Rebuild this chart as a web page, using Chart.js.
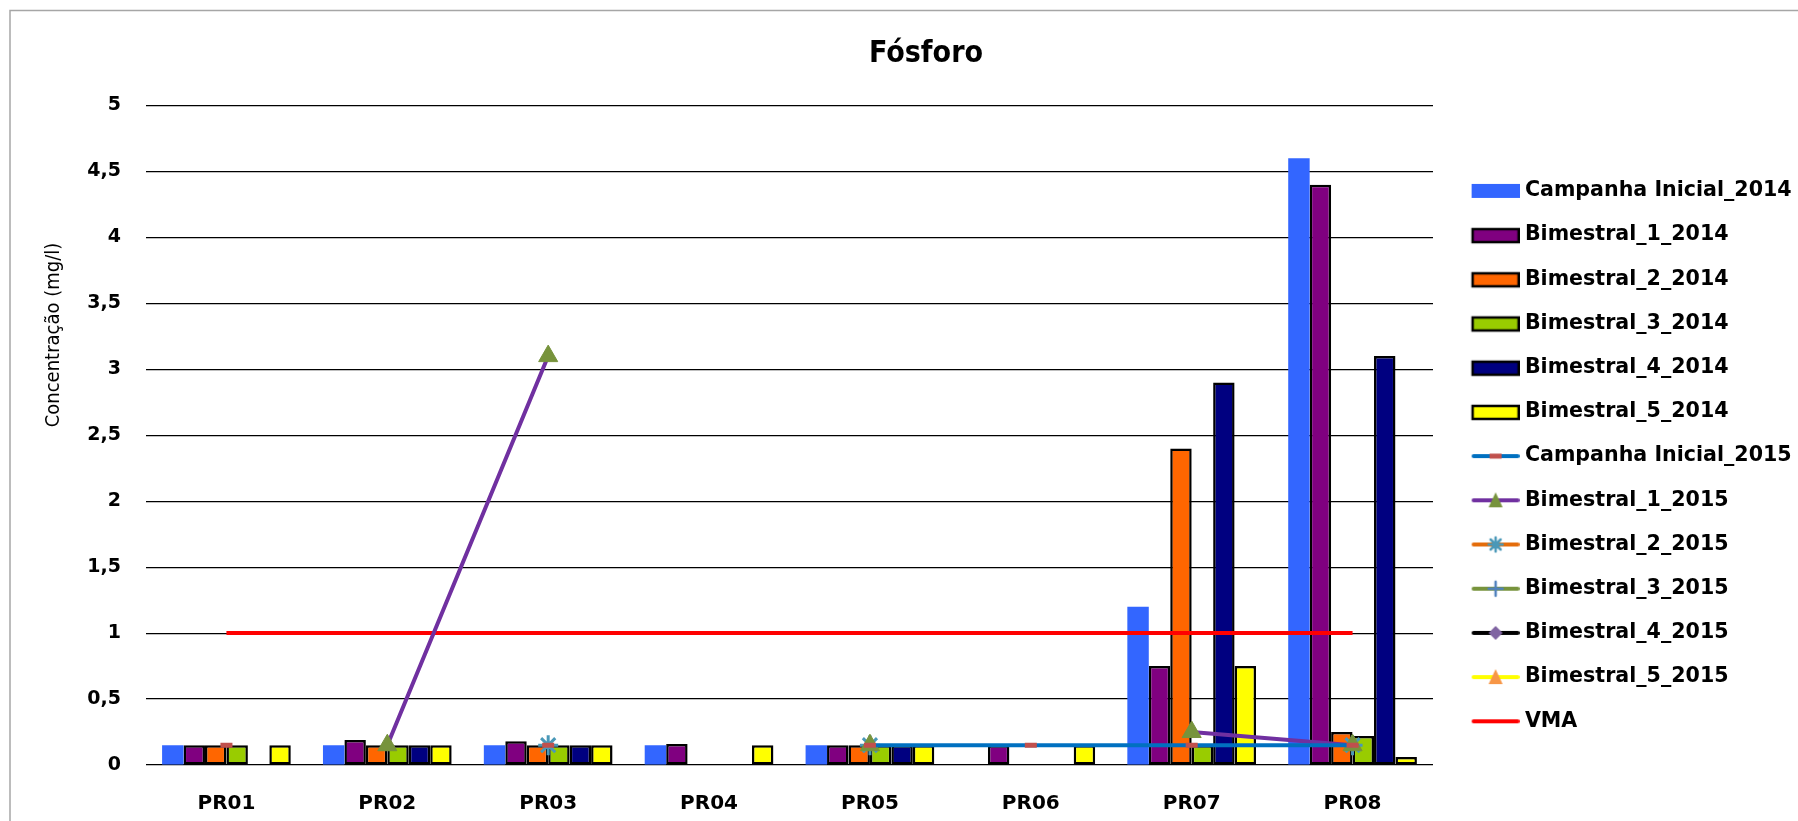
<!DOCTYPE html>
<html>
<head>
<meta charset="utf-8">
<script src="https://cdn.jsdelivr.net/npm/chart.js@4.4.1/dist/chart.umd.min.js"></script>
<style>
  body { margin: 0; background: #fff; }
  canvas { display: block; }
</style>
</head>
<body>
<canvas id="myChart" width="1798" height="821"></canvas>
<script>
// pontos de coleta e ticks do eixo y
const pontos = ["PR01", "PR02", "PR03", "PR04", "PR05", "PR06", "PR07", "PR08"];
const yTicks = [0, 0.5, 1, 1.5, 2, 2.5, 3, 3.5, 4, 4.5, 5];

// campanhas 2014 (barras)
const campanha2014 = [0.15, 0.15, 0.15, 0.15, 0.15, null, 1.2, 4.6];
const bim1_2014 = [0.15, 0.19, 0.18, 0.16, 0.15, 0.15, 0.75, 4.4];
const bim2_2014 = [0.15, 0.15, 0.15, null, 0.15, null, 2.4, 0.25];
const bim3_2014 = [0.15, 0.15, 0.15, null, 0.15, null, 0.15, 0.22];
const bim4_2014 = [null, 0.15, 0.15, null, 0.15, null, 2.9, 3.1];
const bim5_2014 = [0.15, 0.15, 0.15, 0.15, 0.15, 0.15, 0.75, 0.06];

// campanhas 2015 (linhas)
const campanha2015 = [0.15, null, 0.15, null, 0.15, 0.15, 0.15, 0.15];
const bim1_2015 = [null, 0.15, 3.1, null, 0.15, null, 0.25, 0.15];
const bim2_2015 = [null, null, 0.15, null, 0.15, null, null, 0.15];
const bim3_2015 = [null, null, null, null, null, null, null, null];
const bim4_2015 = [null, null, null, null, null, null, null, null];
const bim5_2015 = [null, null, null, null, null, null, null, null];
const vma = [1, 1, 1, 1, 1, 1, 1, 1];

// simbolos da legenda
function caixa(cor, borda) {
  const c = document.createElement('canvas');
  c.width = 68; c.height = 20;
  const g = c.getContext('2d');
  g.fillStyle = cor;
  if (borda) {
    g.fillRect(21, 4, 46, 13);
    g.strokeStyle = '#000'; g.lineWidth = 2.5;
    g.strokeRect(21, 4, 46, 13);
  } else {
    g.fillRect(20, 3, 48, 14);
  }
  return c;
}

function linha(cor, marca, corMarca) {
  const c = document.createElement('canvas');
  c.width = 68; c.height = 20;
  const g = c.getContext('2d');
  g.strokeStyle = cor; g.lineWidth = 4; g.lineCap = 'round';
  g.beginPath(); g.moveTo(22, 10); g.lineTo(66, 10); g.stroke();
  g.fillStyle = corMarca; g.strokeStyle = corMarca;
  if (marca == 'dash') {
    g.fillRect(38, 7.5, 12, 5);
  } else if (marca == 'tri') {
    g.beginPath(); g.moveTo(44, 2); g.lineTo(51, 17); g.lineTo(37, 17); g.closePath(); g.fill();
  } else if (marca == 'star') {
    g.lineWidth = 2.5;
    g.beginPath();
    g.moveTo(44, 3); g.lineTo(44, 17);
    g.moveTo(37, 10); g.lineTo(51, 10);
    g.moveTo(39, 5); g.lineTo(49, 15);
    g.moveTo(49, 5); g.lineTo(39, 15);
    g.stroke();
  } else if (marca == 'plus') {
    g.lineWidth = 2.5;
    g.beginPath(); g.moveTo(44, 3); g.lineTo(44, 17); g.moveTo(37, 10); g.lineTo(51, 10); g.stroke();
  } else if (marca == 'diam') {
    g.beginPath(); g.moveTo(44, 3); g.lineTo(51, 10); g.lineTo(44, 17); g.lineTo(37, 10); g.closePath(); g.fill();
  }
  return c;
}

const simbolos = [
  caixa('#3366FF', false),
  caixa('#800080', true),
  caixa('#FF6600', true),
  caixa('#99CC00', true),
  caixa('#000080', true),
  caixa('#FFFF00', true),
  linha('#0070C0', 'dash', '#C0504D'),
  linha('#7030A0', 'tri', '#77933C'),
  linha('#E46C0A', 'star', '#4A98B8'),
  linha('#77933C', 'plus', '#4F81BD'),
  linha('#000000', 'diam', '#8064A2'),
  linha('#FFFF00', 'tri', '#F79646'),
  linha('#FF0000', '', '#FF0000')
];

function barra(label, data, cor, borda) {
  return {
    type: 'bar', label: label, data: data, order: 2,
    backgroundColor: cor,
    borderColor: '#000',
    borderWidth: borda ? 2.5 : 0,
    borderSkipped: false,
    categoryPercentage: 0.8, barPercentage: 1.0
  };
}

function serie(label, data, cor, estilo, raio, corMarca, bw) {
  return {
    type: 'line', label: label, data: data, order: 1,
    borderColor: cor, borderWidth: 4, tension: 0, spanGaps: false,
    pointStyle: estilo, pointRadius: raio,
    pointBackgroundColor: corMarca, pointBorderColor: corMarca,
    pointBorderWidth: bw
  };
}

// moldura do grafico
const moldura = {
  id: 'moldura',
  beforeDraw(chart) {
    const ctx = chart.ctx;
    ctx.save();
    ctx.fillStyle = '#fff';
    ctx.fillRect(0, 0, chart.width, chart.height);
    ctx.strokeStyle = '#a6a6a6'; ctx.lineWidth = 1.5;
    ctx.beginPath();
    ctx.moveTo(10, chart.height); ctx.lineTo(10, 10.5); ctx.lineTo(chart.width, 10.5);
    ctx.stroke();
    ctx.restore();
  }
};

// titulo do eixo y
const tituloEixo = {
  id: 'tituloEixo',
  afterDraw(chart) {
    const ctx = chart.ctx;
    ctx.save();
    ctx.translate(54, 335);
    ctx.rotate(-Math.PI / 2);
    ctx.font = '20px "DejaVu Sans Condensed", "DejaVu Sans"';
    ctx.fillStyle = '#000';
    ctx.textAlign = 'center';
    ctx.textBaseline = 'middle';
    ctx.fillText('Concentração (mg/l)', 0, 0);
    ctx.restore();
  }
};

Chart.defaults.font.family = '"DejaVu Sans"';
Chart.defaults.color = '#000';

new Chart("myChart", {
  type: "bar",
  data: {
    labels: pontos,
    datasets: [
      barra('Campanha Inicial_2014', campanha2014, '#3366FF', false),
      barra('Bimestral_1_2014', bim1_2014, '#800080', true),
      barra('Bimestral_2_2014', bim2_2014, '#FF6600', true),
      barra('Bimestral_3_2014', bim3_2014, '#99CC00', true),
      barra('Bimestral_4_2014', bim4_2014, '#000080', true),
      barra('Bimestral_5_2014', bim5_2014, '#FFFF00', true),
      serie('Campanha Inicial_2015', campanha2015, '#0070C0', 'line', 6, '#C0504D', 5),
      serie('Bimestral_1_2015', bim1_2015, '#7030A0', 'triangle', 11, '#77933C', 1),
      serie('Bimestral_2_2015', bim2_2015, '#E46C0A', 'star', 10, '#4A98B8', 3),
      serie('Bimestral_3_2015', bim3_2015, '#77933C', 'cross', 8, '#4F81BD', 2.5),
      serie('Bimestral_4_2015', bim4_2015, '#000000', 'rectRot', 7, '#8064A2', 1),
      serie('Bimestral_5_2015', bim5_2015, '#FFFF00', 'triangle', 10, '#F79646', 1),
      serie('VMA', vma, '#FF0000', 'circle', 0, '#FF0000', 0)
    ]
  },
  options: {
    responsive: false,
    animation: false,
    devicePixelRatio: 1,
    layout: { padding: { left: 54, right: 0, top: 0, bottom: 0 } },
    scales: {
      x: {
        grid: { display: false },
        border: { display: false },
        ticks: { padding: 19, font: { size: 20, weight: 'bold' }, color: '#000' },
        afterFit: s => { s.height = 56; }
      },
      y: {
        min: 0, max: 5,
        grid: { color: '#000', lineWidth: 1.2, drawTicks: false },
        border: { display: false },
        afterBuildTicks: s => { s.ticks = yTicks.map(v => ({ value: v })); },
        ticks: {
          padding: 25,
          font: { size: 19, weight: 'bold' },
          color: '#000',
          callback: v => String(v).replace('.', ',')
        },
        afterFit: s => { s.width = 92; }
      }
    },
    plugins: {
      title: {
        display: true,
        text: 'Fósforo',
        color: '#000',
        font: { family: '"DejaVu Sans Condensed", "DejaVu Sans"', size: 30, weight: 'bold' },
        padding: { top: 36, bottom: 33.5 }
      },
      legend: {
        position: 'right',
        align: 'start',
        maxWidth: 365,
        title: { display: true, text: '', font: { size: 10 }, padding: { top: 145, bottom: 0 } },
        labels: {
          usePointStyle: true,
          pointStyleWidth: 58,
          padding: 23.6,
          color: '#000',
          font: { size: 20.6, weight: 'bold' },
          generateLabels: chart => chart.data.datasets.map((ds, i) => ({
            text: ds.label,
            datasetIndex: i,
            pointStyle: simbolos[i],
            fontColor: '#000',
            hidden: false,
            lineWidth: 0
          }))
        }
      },
      tooltip: { enabled: false }
    }
  },
  plugins: [moldura, tituloEixo]
});
</script>
</body>
</html>
